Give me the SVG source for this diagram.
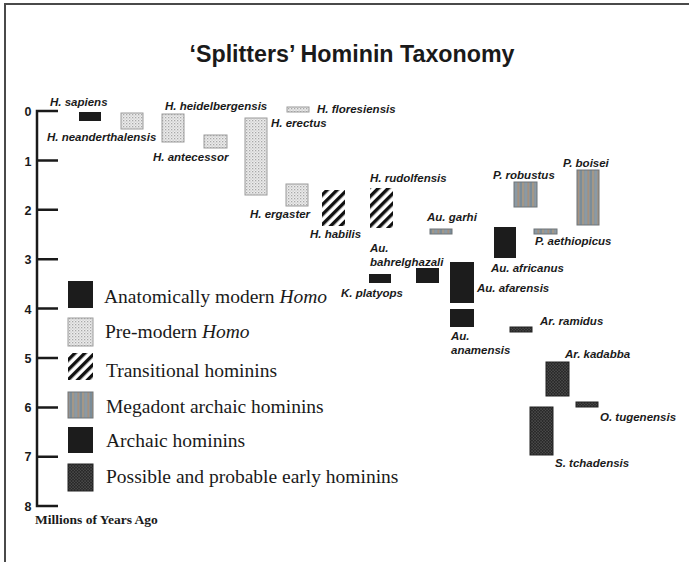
<svg xmlns="http://www.w3.org/2000/svg" width="691" height="562" viewBox="0 0 691 562">
<style>
.lbl{font-family:"Liberation Sans",Arial,sans-serif;font-weight:bold;font-style:italic;font-size:11.5px;fill:#1a1a1a}
.axn{font-family:"Liberation Sans",Arial,sans-serif;font-weight:bold;font-size:12.5px;fill:#1a1a1a;text-anchor:middle}
.leg{font-family:"Liberation Serif","Times New Roman",serif;font-size:19.5px;fill:#1a1a1a}
.title{font-family:"Liberation Sans",Arial,sans-serif;font-weight:bold;font-size:23px;fill:#1a1a1a;text-anchor:middle}
.axis{stroke:#1a1a1a;stroke-width:2.5;fill:none}
.modern{fill:#1c1c1c}
.pre{fill:url(#pPre);stroke:#9c9c9c;stroke-width:1}
.trans{fill:url(#pHatch)}
.mega{fill:url(#pMega);stroke:#6f7479;stroke-width:1}
.arch{fill:#1c1c1c}
.early{fill:url(#pEarly);stroke:#222;stroke-width:1}
</style>
<defs>
<pattern id="pPre" width="3" height="3" patternUnits="userSpaceOnUse">
<rect width="3" height="3" fill="#ececec"/>
<rect x="0" y="0" width="1.3" height="1.3" fill="#a8a8a8"/>
<rect x="1.5" y="1.5" width="1.2" height="1.2" fill="#c4c4c4"/>
</pattern>
<pattern id="pEarly" width="3" height="3" patternUnits="userSpaceOnUse">
<rect width="3" height="3" fill="#2b2b2b"/>
<rect x="0.5" y="0.5" width="1.1" height="1.1" fill="#6a6a6a"/>
<rect x="2" y="2" width="0.9" height="0.9" fill="#555"/>
</pattern>
<pattern id="pHatch" width="7" height="7" patternUnits="userSpaceOnUse" patternTransform="rotate(45)">
<rect width="7" height="7" fill="#fff"/>
<rect x="0" y="0" width="3.4" height="7" fill="#111"/>
</pattern>
<pattern id="pMega" width="10" height="10" patternUnits="userSpaceOnUse">
<rect width="10" height="10" fill="#8e959b"/>
<rect x="0" width="2" height="10" fill="#7b8d99"/>
<rect x="2" width="2" height="10" fill="#a39888"/>
<rect x="5" width="2" height="10" fill="#8a9aa5"/>
<rect x="7.5" width="1.5" height="10" fill="#a6917e"/>
</pattern>
</defs>
<rect width="691" height="562" fill="#fff"/>
<g id="frame" stroke="#4a4a4a" stroke-width="2" fill="none">
<line x1="4" y1="4" x2="689" y2="4"/>
<line x1="5" y1="4" x2="5" y2="562"/>
</g>
<text class="title" x="352" y="62" textLength="325" lengthAdjust="spacingAndGlyphs">‘Splitters’ Hominin Taxonomy</text>
<g id="axis">
<path class="axis" d="M58 111H37V506H58"/>
<path class="axis" d="M37 160.4H58M37 209.8H58M37 259.2H58M37 308.6H58M37 358H58M37 407.4H58M37 456.8H58"/>
<text class="axn" x="28" y="116">0</text>
<text class="axn" x="28" y="166">1</text>
<text class="axn" x="28" y="215">2</text>
<text class="axn" x="28" y="264">3</text>
<text class="axn" x="28" y="314">4</text>
<text class="axn" x="28" y="363">5</text>
<text class="axn" x="28" y="412">6</text>
<text class="axn" x="28" y="461">7</text>
<text class="axn" x="28" y="511">8</text>
<text x="35" y="524" style="font-family:'Liberation Serif','Times New Roman',serif;font-weight:bold;font-size:13.5px;fill:#1a1a1a">Millions of Years Ago</text>
</g>
<g id="connectors"/>
<g id="h-sapiens"><rect class="modern" x="79" y="112" width="22" height="9"/><text class="lbl" x="50" y="106">H. sapiens</text></g>
<g id="h-neanderthalensis"><rect class="pre" x="121" y="113" width="22" height="16"/><text class="lbl" x="47" y="141">H. neanderthalensis</text></g>
<g id="h-heidelbergensis"><rect class="pre" x="162" y="114" width="22" height="28"/><text class="lbl" x="165" y="110">H. heidelbergensis</text></g>
<g id="h-antecessor"><rect class="pre" x="204" y="135" width="23" height="13"/><text class="lbl" x="153" y="161">H. antecessor</text></g>
<g id="h-erectus"><rect class="pre" x="245" y="118" width="22" height="77"/><text class="lbl" x="271" y="127">H. erectus</text></g>
<g id="h-floresiensis"><rect class="pre" x="287" y="107" width="22" height="5"/><text class="lbl" x="317" y="113">H. floresiensis</text></g>
<g id="h-ergaster"><rect class="pre" x="286" y="184" width="22" height="22"/><text class="lbl" x="250" y="218">H. ergaster</text></g>
<g id="h-habilis"><rect class="trans" x="322" y="190" width="23" height="36"/><text class="lbl" x="310" y="238">H. habilis</text></g>
<g id="h-rudolfensis"><rect class="trans" x="370" y="188" width="23" height="40"/><text class="lbl" x="370" y="182">H. rudolfensis</text></g>
<g id="au-garhi"><rect class="mega" x="430" y="229" width="22" height="5"/><text class="lbl" x="427" y="221">Au. garhi</text></g>
<g id="au-bahrelghazali"><rect class="arch" x="416" y="268" width="23" height="15"/><text class="lbl" x="370" y="252">Au.</text><text class="lbl" x="370" y="266">bahrelghazali</text></g>
<g id="k-platyops"><rect class="arch" x="369" y="274" width="22" height="9"/><text class="lbl" x="341" y="297">K. platyops</text></g>
<g id="au-afarensis"><rect class="arch" x="450" y="262" width="24" height="41"/><text class="lbl" x="477" y="292">Au. afarensis</text></g>
<g id="au-anamensis"><rect class="arch" x="450" y="309" width="24" height="18"/><text class="lbl" x="451" y="340">Au.</text><text class="lbl" x="451" y="354">anamensis</text></g>
<g id="au-africanus"><rect class="arch" x="494" y="227" width="22" height="31"/><text class="lbl" x="491" y="272">Au. africanus</text></g>
<g id="p-robustus"><rect class="mega" x="514" y="182" width="23" height="25"/><text class="lbl" x="493" y="179">P. robustus</text></g>
<g id="p-boisei"><rect class="mega" x="577" y="170" width="22" height="55"/><text class="lbl" x="563" y="167">P. boisei</text></g>
<g id="p-aethiopicus"><rect class="mega" x="534" y="229" width="23" height="5"/><text class="lbl" x="535" y="245">P. aethiopicus</text></g>
<g id="ar-ramidus"><rect class="early" x="510" y="327" width="22" height="5"/><text class="lbl" x="540" y="325">Ar. ramidus</text></g>
<g id="ar-kadabba"><rect class="early" x="546" y="362" width="23" height="34"/><text class="lbl" x="565" y="358">Ar. kadabba</text></g>
<g id="o-tugenensis"><rect class="early" x="576" y="402" width="22" height="5"/><text class="lbl" x="600" y="421">O. tugenensis</text></g>
<g id="s-tchadensis"><rect class="early" x="530" y="407" width="23" height="48"/><text class="lbl" x="555" y="467">S. tchadensis</text></g>
<g id="legend">
<g id="leg-modern"><rect class="modern" x="68" y="281" width="25" height="27"/><text class="leg" x="104" y="303">Anatomically modern <tspan font-style="italic">Homo</tspan></text></g>
<g id="leg-pre"><rect class="pre" x="68" y="318" width="25" height="28"/><text class="leg" x="105" y="338">Pre-modern <tspan font-style="italic">Homo</tspan></text></g>
<g id="leg-trans"><rect class="trans" x="68" y="353" width="25" height="27"/><text class="leg" x="106" y="377">Transitional hominins</text></g>
<g id="leg-mega"><rect class="mega" x="68" y="392" width="25" height="26"/><text class="leg" x="106" y="413">Megadont archaic hominins</text></g>
<g id="leg-arch"><rect class="arch" x="68" y="427" width="25" height="26"/><text class="leg" x="106" y="447">Archaic hominins</text></g>
<g id="leg-early"><rect class="early" x="68" y="464" width="25" height="27"/><text class="leg" x="106" y="483">Possible and probable early hominins</text></g>
</g>
</svg>
